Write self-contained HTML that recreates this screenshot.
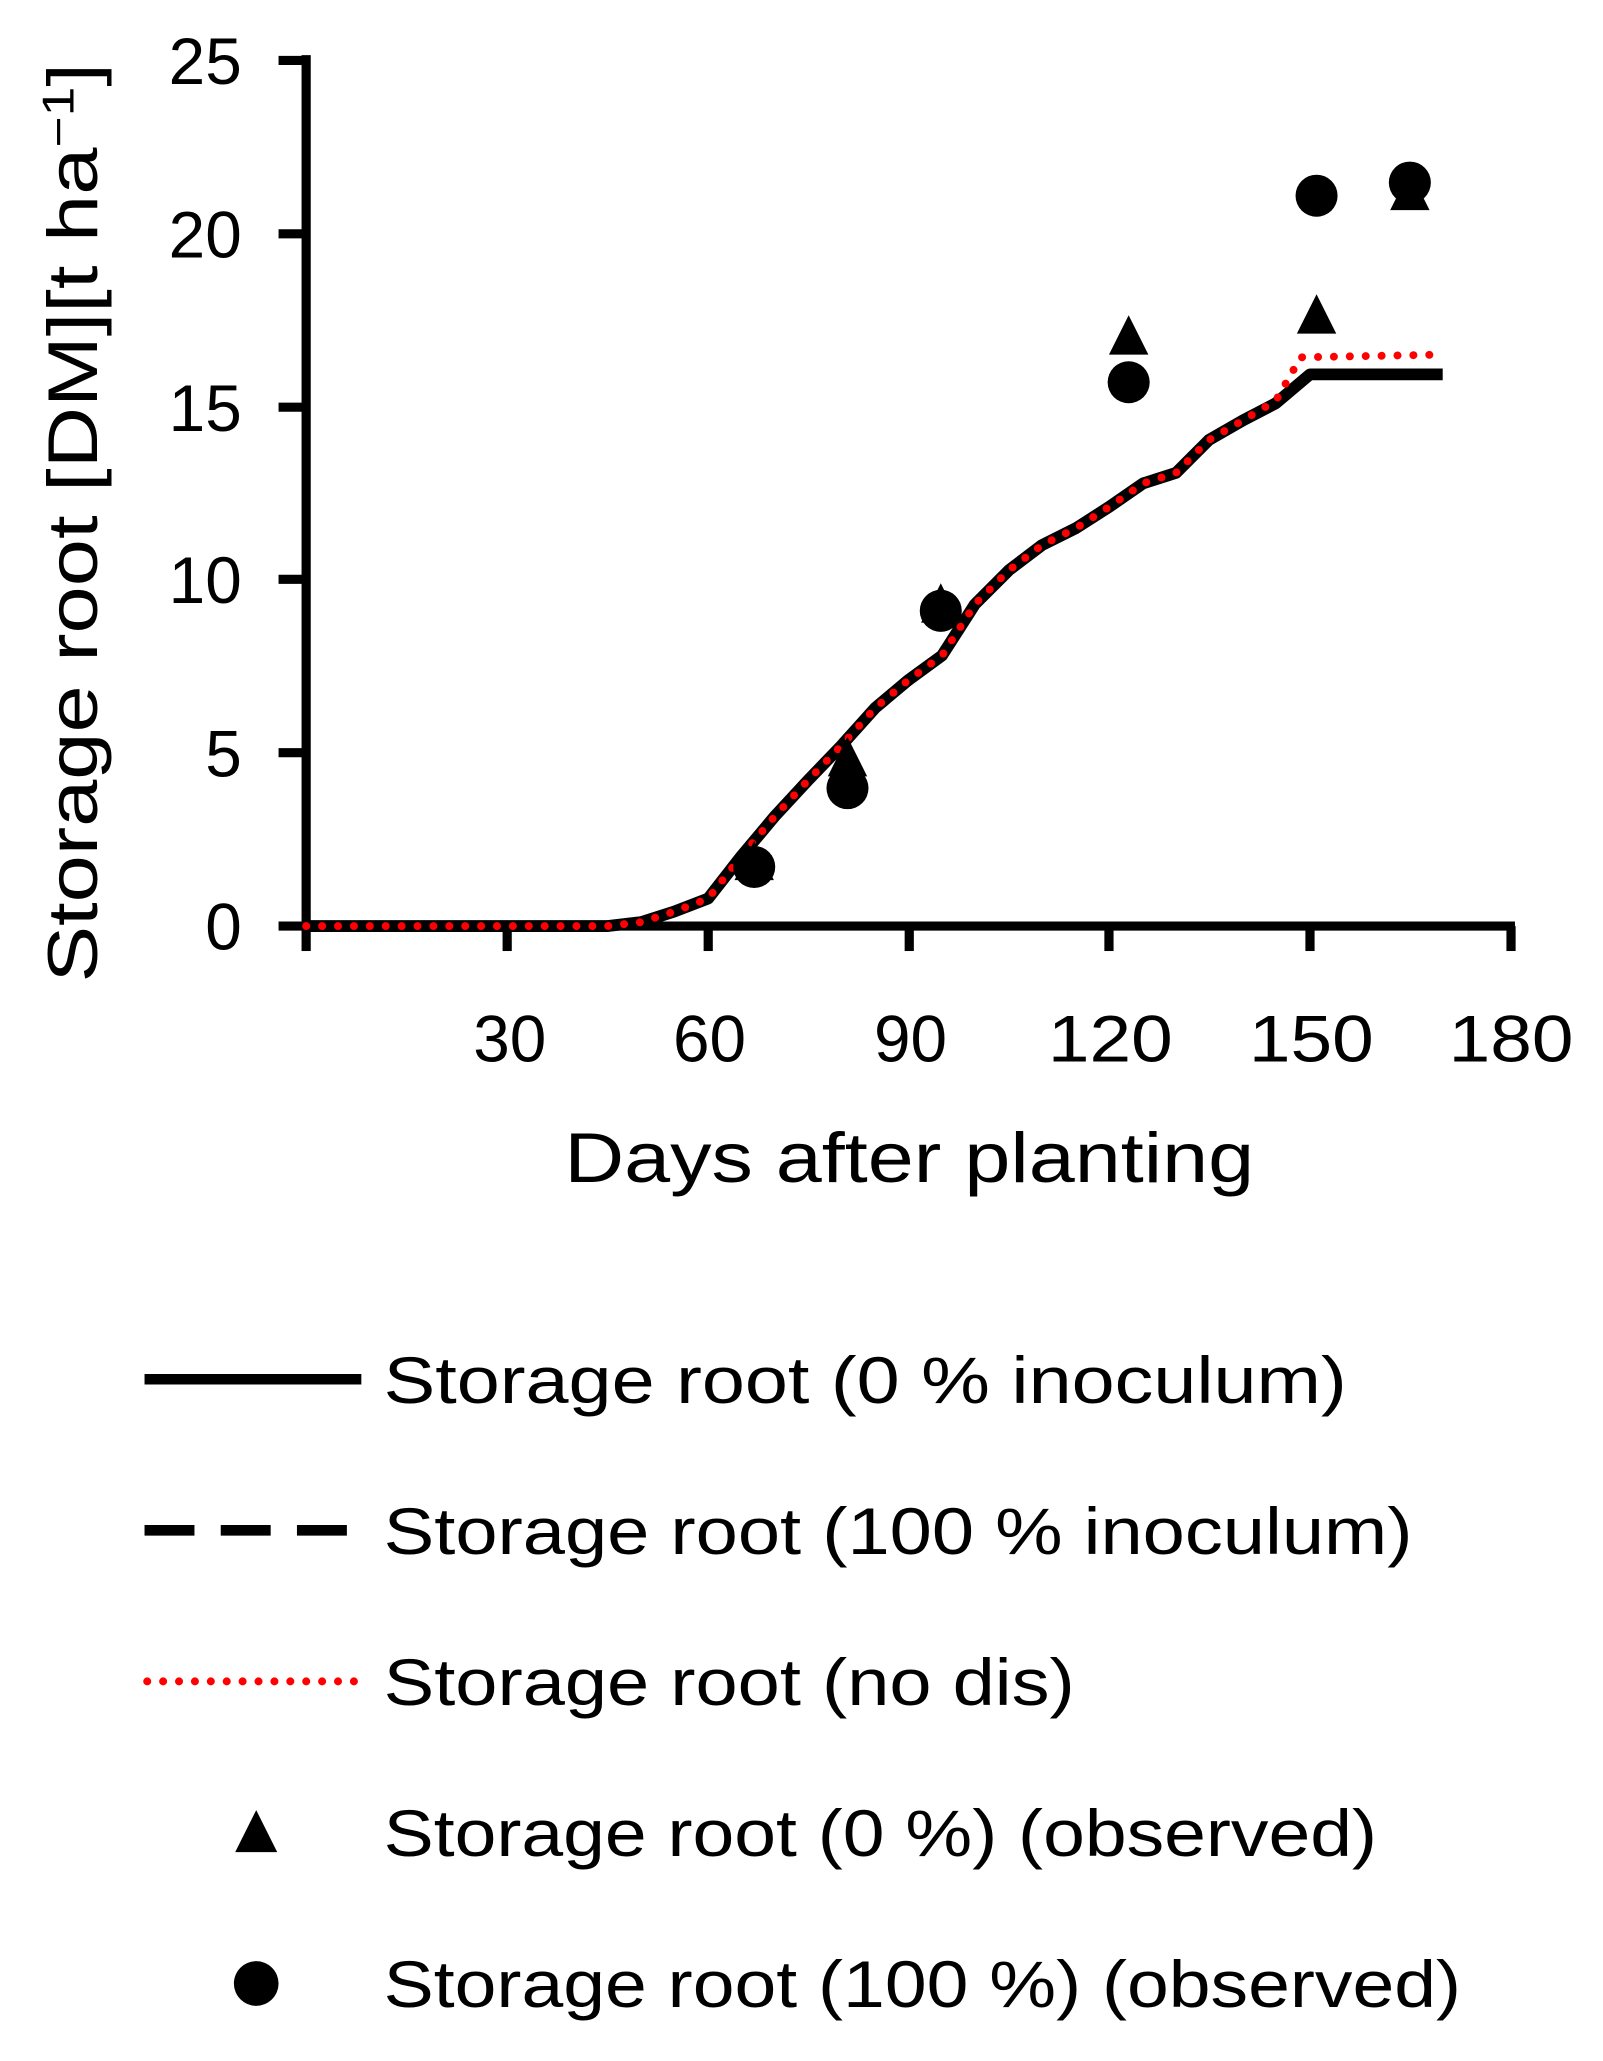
<!DOCTYPE html>
<html><head><style>html,body{margin:0;padding:0;background:#fff}svg{display:block}</style></head>
<body>
<svg width="1603" height="2061" viewBox="0 0 1220 1569" preserveAspectRatio="none" xmlns="http://www.w3.org/2000/svg" font-family="Liberation Sans, sans-serif">
<g stroke="#000" stroke-width="7" fill="none">
<line x1="233" y1="42" x2="233" y2="709"/>
<line x1="230" y1="705" x2="1153" y2="705"/>
<line x1="212" y1="46" x2="233" y2="46"/>
<line x1="212" y1="178" x2="233" y2="178"/>
<line x1="212" y1="310" x2="233" y2="310"/>
<line x1="212" y1="441" x2="233" y2="441"/>
<line x1="212" y1="573" x2="233" y2="573"/>
<line x1="212" y1="705" x2="233" y2="705"/>
<line x1="233" y1="705" x2="233" y2="724"/>
<line x1="386" y1="705" x2="386" y2="724"/>
<line x1="539" y1="705" x2="539" y2="724"/>
<line x1="692" y1="705" x2="692" y2="724"/>
<line x1="844" y1="705" x2="844" y2="724"/>
<line x1="997" y1="705" x2="997" y2="724"/>
<line x1="1150" y1="705" x2="1150" y2="724"/>
</g>
<g font-size="50" text-anchor="end" fill="#000">
<text x="184" y="64">25</text><text x="184" y="196">20</text><text x="184" y="328">15</text>
<text x="184" y="459">10</text><text x="184" y="591">5</text><text x="184" y="723">0</text>
</g>
<g font-size="50" text-anchor="middle" fill="#000">
<text x="388" y="808">30</text><text x="540" y="808">60</text><text x="693" y="808">90</text>
<text x="845" y="808" textLength="95" lengthAdjust="spacingAndGlyphs">120</text><text x="998" y="808" textLength="95" lengthAdjust="spacingAndGlyphs">150</text><text x="1150" y="808" textLength="95" lengthAdjust="spacingAndGlyphs">180</text>
</g>
<text x="692" y="900" font-size="54" text-anchor="middle" textLength="525" lengthAdjust="spacingAndGlyphs">Days after planting</text>
<text transform="translate(74,398) rotate(-90)" font-size="54" text-anchor="middle" textLength="700" lengthAdjust="spacingAndGlyphs">Storage root [DM][t ha<tspan font-size="34" dy="-18">−1</tspan><tspan dy="18">]</tspan></text>
<polyline fill="none" stroke="#000" stroke-width="9" stroke-linejoin="round" points="233,705 462,705 488,702 513,694 539,684 564,652 590,621 615,594 640,568 666,539 691,518 717,499 742,460 768,434 793,415 819,402 844,386 870,368 895,360 920,335 946,320 971,307 997,285 1098,285"/>
<polyline fill="none" stroke="#f00" stroke-width="6" stroke-dasharray="0.1,12" stroke-linecap="round" points="233,705 462,705 488,702 513,694 539,684 564,652 590,621 615,594 640,568 666,539 691,518 717,499 742,460 768,434 793,415 819,402 844,386 870,368 895,360 920,335 946,320 971,305 990,272 1095,270"/>
<g fill="#000">
<polygon points="574,640 559,670 589,670"/>
<polygon points="645,561 630,591 660,591"/>
<polygon points="716,444 701,474 731,474"/>
<polygon points="859,240 844,270 874,270"/>
<polygon points="1002,224 987,254 1017,254"/>
<polygon points="1073,130 1058,160 1088,160"/>
<circle cx="574" cy="660" r="16"/>
<circle cx="645" cy="600" r="16"/>
<circle cx="716" cy="465" r="16"/>
<circle cx="859" cy="291" r="16"/>
<circle cx="1002" cy="149" r="16"/>
<circle cx="1073" cy="139" r="16"/>
</g>
<line x1="110" y1="1050" x2="275" y2="1050" stroke="#000" stroke-width="8"/>
<line x1="110" y1="1165" x2="275" y2="1165" stroke="#000" stroke-width="8" stroke-dasharray="38,20"/>
<line x1="112" y1="1280" x2="272" y2="1280" stroke="#f00" stroke-width="6" stroke-dasharray="0.1,12" stroke-linecap="round"/>
<polygon points="195,1378 179,1410 211,1410" fill="#000"/>
<circle cx="195" cy="1510" r="17" fill="#000"/>
<g font-size="50" fill="#000">
<text x="292" y="1068" textLength="733" lengthAdjust="spacingAndGlyphs">Storage root (0 %  inoculum)</text>
<text x="292" y="1183" textLength="783" lengthAdjust="spacingAndGlyphs">Storage root (100 % inoculum)</text>
<text x="292" y="1298" textLength="526" lengthAdjust="spacingAndGlyphs">Storage root (no dis)</text>
<text x="292" y="1413" textLength="756" lengthAdjust="spacingAndGlyphs">Storage root (0 %) (observed)</text>
<text x="292" y="1528" textLength="820" lengthAdjust="spacingAndGlyphs">Storage root (100 %) (observed)</text>
</g>
</svg>
</body></html>
